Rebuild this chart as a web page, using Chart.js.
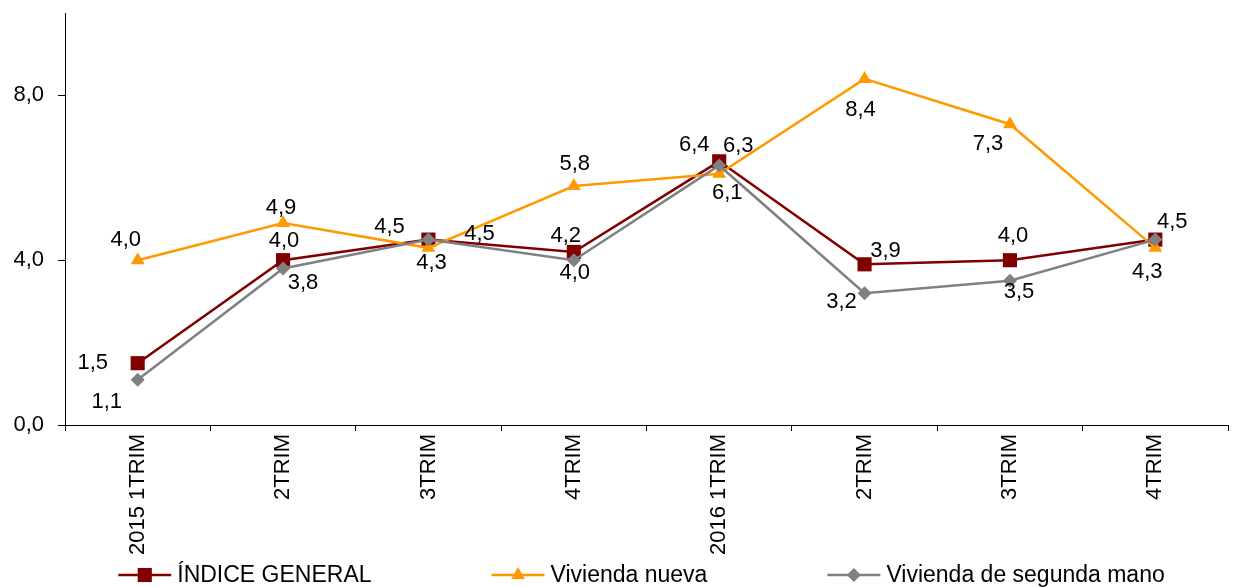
<!DOCTYPE html>
<html lang="es">
<head>
<meta charset="utf-8">
<title>Índice de precios de vivienda</title>
<script src="https://cdn.jsdelivr.net/npm/chart.js@4/dist/chart.umd.min.js"></script>
<style>
    html, body { margin: 0; padding: 0; background: #fff; }
    #wrap { width: 1233px; height: 587px; position: relative; }
</style>
</head>
<body>
<div id="wrap"><canvas id="chart"></canvas></div>
<script>
/* ---- data ---- */
const CATEGORIES = ['2015 1TRIM', '2TRIM', '3TRIM', '4TRIM', '2016 1TRIM', '2TRIM', '3TRIM', '4TRIM'];
const INDICE_GENERAL = [1.5, 4.0, 4.5, 4.2, 6.4, 3.9, 4.0, 4.5];
const VIVIENDA_NUEVA = [4.0, 4.9, 4.3, 5.8, 6.1, 8.4, 7.3, 4.3];
const SEGUNDA_MANO   = [1.1, 3.8, 4.5, 4.0, 6.3, 3.2, 3.5, 4.5];
const SERIES_NAMES = ['ÍNDICE GENERAL', 'Vivienda nueva', 'Vivienda de segunda mano'];
const Y_TICKS = [0, 4, 8];

/* ---- styles ---- */
const FONT = '"Liberation Sans", Arial, sans-serif';
const COLORS = ['#800000', '#FF9900', '#808080'];
const POINT_STYLES = ['rect', 'triangle', 'rectRot'];
const POINT_RADIUS = [10, 8, 7];

// label offsets (dx, dy) from each point, null = label not shown
const LABEL_OFFSETS = [
    [[-45, 0], [1, -19], [-39, -13], [-8, -16], [-25, -16], [21, -13], [3, -24], [17, -18]],
    [[-12, -20], [-2, -15], [3, 15], [1, -22], [8, 19], [-4, 31], [-22, 20], [-8, 24]],
    [[-31, 22], [20, 14], [51, -6], [1, 13], [19, -20], [-23, 9], [9, 11], null]
];

const fmt = v => v.toFixed(1).replace('.', ',');

const dataLabels = {
    id: 'dataLabels',
    afterDatasetsDraw(chart) {
        const ctx = chart.ctx;
        ctx.save();
        ctx.font = '22px ' + FONT;
        ctx.fillStyle = '#000';
        ctx.textAlign = 'center';
        ctx.textBaseline = 'middle';
        chart.data.datasets.forEach((ds, di) => {
            const meta = chart.getDatasetMeta(di);
            meta.data.forEach((pt, i) => {
                const off = LABEL_OFFSETS[di][i];
                if (!off) return;
                ctx.fillText(fmt(ds.data[i]), pt.x + off[0], pt.y + off[1]);
            });
        });
        ctx.restore();
    }
};

// legend: line with marker in the middle, like the spreadsheet one
const lineLegend = {
    id: 'lineLegend',
    afterDraw(chart) {
        const ctx = chart.ctx, ca = chart.chartArea;
        const symW = 53, symGap = 6, itemGap = 120, y = 575;
        ctx.save();
        ctx.font = '23px ' + FONT;
        const widths = SERIES_NAMES.map(n => ctx.measureText(n).width);
        const total = widths.reduce((a, w) => a + symW + symGap + w, 0) + itemGap * (SERIES_NAMES.length - 1);
        let x = (ca.left + ca.right) / 2 - 5 - total / 2;
        SERIES_NAMES.forEach((name, i) => {
            ctx.strokeStyle = COLORS[i];
            ctx.lineWidth = 2.5;
            ctx.beginPath(); ctx.moveTo(x, y); ctx.lineTo(x + symW, y); ctx.stroke();
            ctx.fillStyle = COLORS[i];
            Chart.helpers.drawPoint(ctx, { pointStyle: POINT_STYLES[i], radius: POINT_RADIUS[i], borderWidth: 0 }, x + symW / 2, y);
            ctx.fillStyle = '#000';
            ctx.textAlign = 'left';
            ctx.textBaseline = 'middle';
            ctx.fillText(name, x + symW + symGap, y + 1);
            x += symW + symGap + widths[i] + itemGap;
        });
        ctx.restore();
    }
};

const seriesData = [INDICE_GENERAL, VIVIENDA_NUEVA, SEGUNDA_MANO];

new Chart(document.getElementById('chart'), {
    type: 'line',
    data: {
        labels: CATEGORIES,
        datasets: seriesData.map((d, i) => ({
            label: SERIES_NAMES[i],
            data: d,
            borderColor: COLORS[i],
            backgroundColor: COLORS[i],
            borderWidth: 2.5,
            pointStyle: POINT_STYLES[i],
            pointRadius: POINT_RADIUS[i],
            pointBorderWidth: 0,
            tension: 0,
            order: 3 - i
        }))
    },
    options: {
        responsive: true,
        maintainAspectRatio: false,
        animation: false,
        layout: { autoPadding: false, padding: { top: 13, right: 5, bottom: 0, left: 0 } },
        plugins: { legend: { display: false }, tooltip: { enabled: false } },
        scales: {
            x: {
                offset: true,
                afterFit: s => { s.height = 162; s.paddingLeft = 0; s.paddingRight = 0; },
                grid: { offset: true, drawOnChartArea: false, drawTicks: true, tickLength: 6, color: '#000' },
                border: { display: true, color: '#000', width: 1 },
                ticks: { color: '#000', font: { family: FONT, size: 22 }, minRotation: 90, maxRotation: 90, padding: 3, autoSkip: false }
            },
            y: {
                min: 0,
                max: 10,
                afterFit: s => { s.width = 65; s.paddingTop = 0; s.paddingBottom = 0; },
                afterBuildTicks: s => { s.ticks = Y_TICKS.map(v => ({ value: v })); },
                grid: { drawOnChartArea: false, drawTicks: true, tickLength: 7, color: '#000' },
                border: { display: true, color: '#000', width: 1 },
                ticks: { color: '#000', font: { family: FONT, size: 22 }, padding: 14, callback: v => fmt(v) }
            }
        }
    },
    plugins: [dataLabels, lineLegend]
});
</script>
</body>
</html>
